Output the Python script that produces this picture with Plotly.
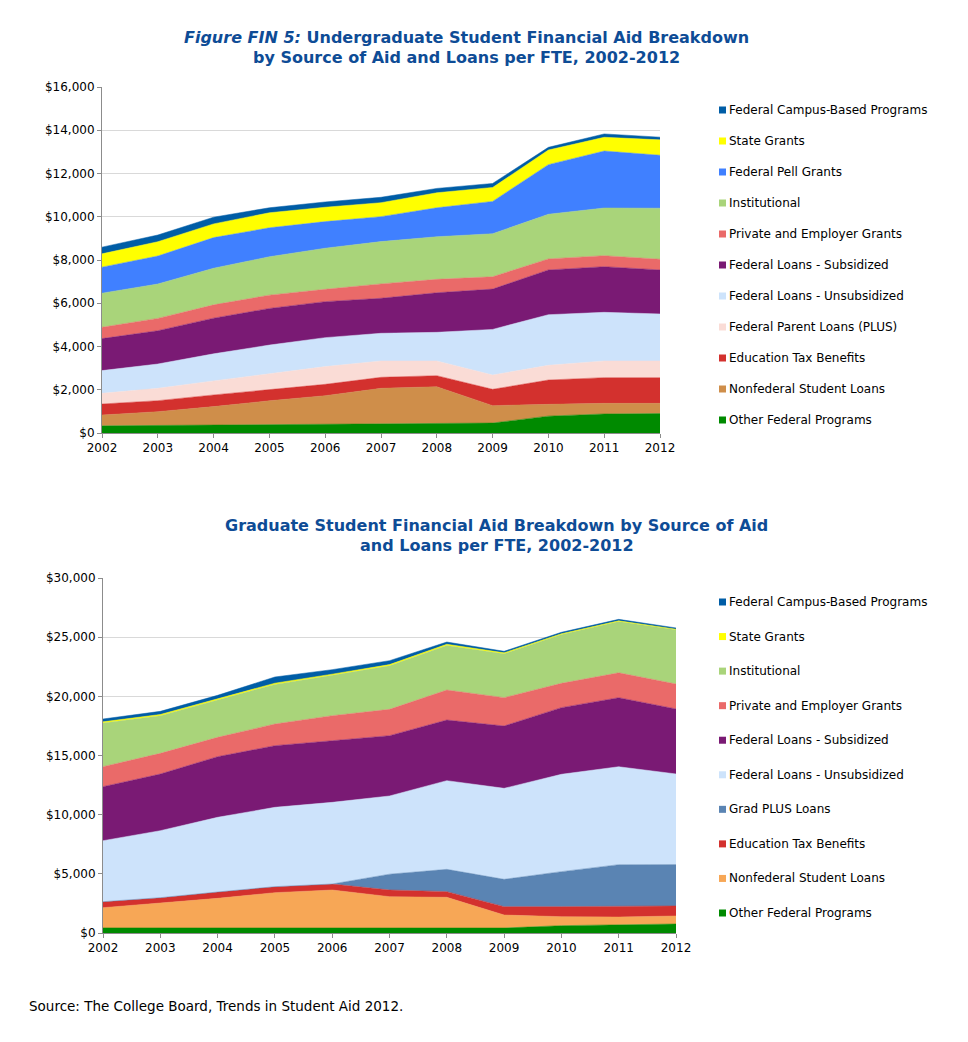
import plotly.graph_objects as go

years = list(range(2002, 2013))

# ---- Undergraduate (stack order bottom -> top) ----
ug_names = ["Other Federal Programs", "Nonfederal Student Loans", "Education Tax Benefits",
            "Federal Parent Loans (PLUS)", "Federal Loans - Unsubsidized", "Federal Loans - Subsidized",
            "Private and Employer Grants", "Institutional", "Federal Pell Grants", "State Grants",
            "Federal Campus-Based Programs"]
ug_other = [330, 350, 370, 390, 400, 420, 440, 460, 780, 880, 900]
ug_nonfed = [500, 635, 850, 1100, 1325, 1645, 1700, 805, 545, 490, 470]
ug_tax = [510, 510, 540, 525, 525, 510, 510, 755, 1125, 1190, 1190]
ug_plus = [495, 570, 650, 740, 820, 755, 680, 660, 680, 770, 770]
ug_unsub = [1050, 1125, 1250, 1310, 1340, 1280, 1325, 2110, 2340, 2250, 2175]
ug_sub = [1480, 1540, 1650, 1695, 1665, 1620, 1830, 1865, 2070, 2110, 2035]
ug_private = [525, 570, 615, 615, 570, 665, 620, 570, 510, 510, 495]
ug_inst = [1575, 1590, 1695, 1775, 1900, 1955, 1970, 1990, 2065, 2205, 2360]
ug_pell = [1205, 1295, 1415, 1340, 1230, 1155, 1340, 1495, 2295, 2635, 2450]
ug_state = [615, 660, 635, 695, 665, 645, 695, 645, 675, 635, 710]
ug_campus = [310, 310, 310, 230, 245, 250, 200, 185, 125, 155, 125]
ug_values = [ug_other, ug_nonfed, ug_tax, ug_plus, ug_unsub, ug_sub, ug_private,
             ug_inst, ug_pell, ug_state, ug_campus]
ug_colors = ["#008A00", "#CF8E4A", "#D3312E", "#FADCD6", "#CDE3FB", "#7A1A74",
             "#EA6A69", "#A9D47A", "#4080FF", "#FFFF00", "#005DA6"]

# ---- Graduate (stack order bottom -> top) ----
gr_names = ["Other Federal Programs", "Nonfederal Student Loans", "Education Tax Benefits",
            "Grad PLUS Loans", "Federal Loans - Unsubsidized", "Federal Loans - Subsidized",
            "Private and Employer Grants", "Institutional", "State Grants",
            "Federal Campus-Based Programs"]
gr_other = [430, 430, 440, 450, 450, 440, 420, 420, 620, 700, 760]
gr_nonfed = [1710, 2075, 2490, 2960, 3185, 2630, 2595, 1100, 760, 650, 680]
gr_tax = [505, 480, 535, 505, 505, 565, 480, 705, 845, 930, 845]
gr_gradplus = [0, 0, 0, 0, 0, 1335, 1885, 2310, 2960, 3495, 3495]
gr_unsub = [5155, 5660, 6310, 6705, 6900, 6610, 7495, 7690, 8225, 8275, 7660]
gr_sub = [4565, 4790, 5125, 5210, 5210, 5095, 5125, 5270, 5635, 5835, 5495]
gr_private = [1690, 1745, 1635, 1830, 2115, 2225, 2535, 2395, 2055, 2105, 2110]
gr_inst = [3690, 3185, 3155, 3350, 3410, 3680, 3765, 3705, 4125, 4330, 4580]
gr_state = [100, 100, 100, 100, 100, 100, 100, 80, 60, 60, 50]
gr_campus = [240, 265, 295, 525, 380, 335, 190, 130, 125, 125, 105]
gr_values = [gr_other, gr_nonfed, gr_tax, gr_gradplus, gr_unsub, gr_sub, gr_private,
             gr_inst, gr_state, gr_campus]
gr_colors = ["#008A00", "#F7A756", "#D3312E", "#5A84B3", "#CDE3FB", "#7A1A74",
             "#EA6A69", "#A9D47A", "#FFFF00", "#005DA6"]

OFF = 8  # page body margin
W, H = 968 - 2 * OFF, 1042 - 2 * OFF
FONT = "DejaVu Sans"
TITLE_COLOR = "#0E4C96"

fig = go.Figure()

for name, vals, col in zip(ug_names, ug_values, ug_colors):
    fig.add_trace(go.Scatter(x=years, y=vals, name=name, stackgroup="ug", mode="lines",
                             line=dict(width=0.5, color=col), fillcolor=col,
                             xaxis="x", yaxis="y", showlegend=False))
for name, vals, col in zip(gr_names, gr_values, gr_colors):
    fig.add_trace(go.Scatter(x=years, y=vals, name=name, stackgroup="gr", mode="lines",
                             line=dict(width=0.5, color=col), fillcolor=col,
                             xaxis="x2", yaxis="y2", showlegend=False))

def px(x):
    return (x - OFF) / W

def py(y):
    return 1 - (y - OFF) / H

axis_common = dict(showline=True, linecolor="#8C8C8C", linewidth=1, ticks="outside",
                   tickcolor="#8C8C8C", ticklen=4, automargin=False,
                   tickfont=dict(family=FONT, size=12, color="#000"))
xcommon = dict(axis_common, tickvals=years, range=[2002, 2012], showgrid=False, zeroline=False)
ycommon = dict(axis_common, tickprefix="$", tickformat=",.0f", showgrid=True,
               gridcolor="#D9D9D9", gridwidth=1, zeroline=False)

fig.update_layout(
    template="none",
    width=W, height=H, margin=dict(l=0, r=0, t=0, b=0, pad=0), autosize=False,
    paper_bgcolor="white", plot_bgcolor="white", showlegend=False,
    xaxis=dict(xcommon, domain=[px(102), px(660)], anchor="y"),
    yaxis=dict(ycommon, domain=[py(433), py(87)], range=[0, 16000], dtick=2000, anchor="x"),
    xaxis2=dict(xcommon, domain=[px(103), px(676)], anchor="y2"),
    yaxis2=dict(ycommon, domain=[py(933), py(578)], range=[0, 30000], dtick=5000, anchor="x2"),
)

annotations = []
shapes = []

def title_line(text, xc, yc):
    annotations.append(dict(text=text, x=px(xc), y=py(yc), xref="paper", yref="paper",
                            xanchor="center", yanchor="middle", showarrow=False,
                            font=dict(family=FONT, size=16, color=TITLE_COLOR)))

title_line("<b><i>Figure FIN 5:</i> Undergraduate Student Financial Aid Breakdown</b>", 466, 38)
title_line("<b>by Source of Aid and Loans per FTE, 2002-2012</b>", 466, 57)
title_line("<b>Graduate Student Financial Aid Breakdown by Source of Aid</b>", 497, 525)
title_line("<b>and Loans per FTE, 2002-2012</b>", 497, 545)

def legend(names, colors, y0, step):
    for i, (name, col) in enumerate(zip(reversed(names), reversed(colors))):
        yc = y0 + i * step
        shapes.append(dict(type="rect", xref="paper", yref="paper",
                           x0=px(719), x1=px(726), y0=py(yc + 3.5), y1=py(yc - 3.5),
                           fillcolor=col, line=dict(width=0)))
        annotations.append(dict(text=name, x=px(727), y=py(yc), xref="paper", yref="paper",
                                xanchor="left", yanchor="middle", showarrow=False,
                                font=dict(family=FONT, size=12, color="#000")))

legend(ug_names, ug_colors, 110, 31)
legend(gr_names, gr_colors, 602, (913 - 602) / 9)

annotations.append(dict(text="Source: The College Board, Trends in Student Aid 2012.",
                        x=px(27), y=py(1006), xref="paper", yref="paper",
                        xanchor="left", yanchor="middle", showarrow=False,
                        font=dict(family=FONT, size=13.5, color="#000")))

fig.update_layout(annotations=annotations, shapes=shapes)
fig.write_html("out.html")
